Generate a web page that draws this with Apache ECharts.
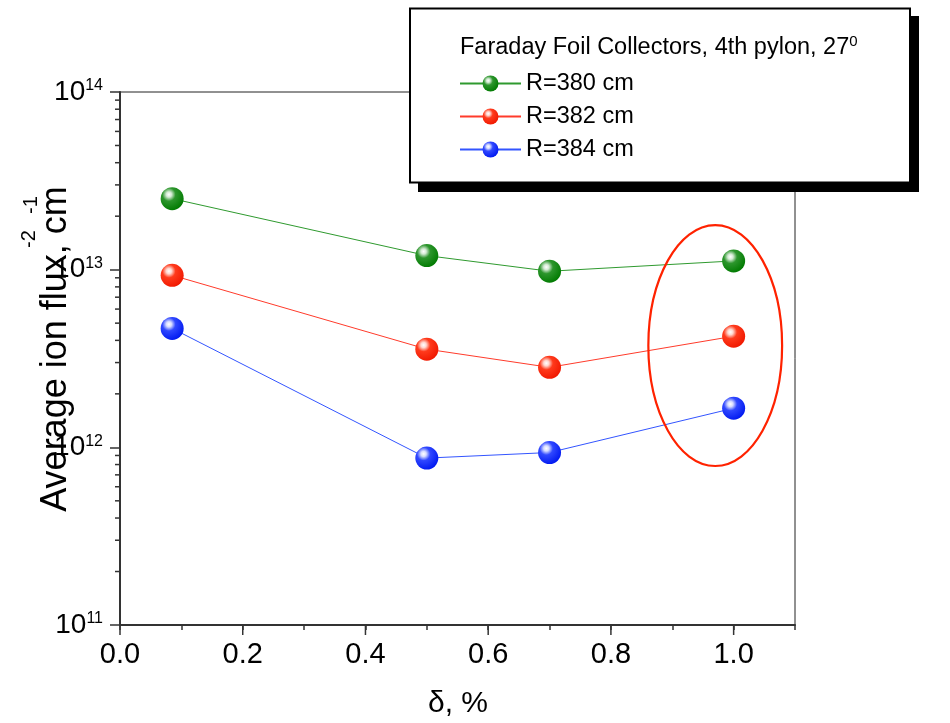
<!DOCTYPE html>
<html>
<head>
<meta charset="utf-8">
<script src="https://cdn.jsdelivr.net/npm/echarts@6/dist/echarts.min.js"></script>
<style>
  html, body { margin: 0; padding: 0; background: #ffffff; }
  #chart { width: 950px; height: 723px; }
</style>
</head>
<body>
<div id="chart"></div>
<script>
// Relative deviation δ (%) of each measurement
const deltaPercent = [0.085, 0.5, 0.7, 1.0];

// Average ion flux (cm^-2 s^-1) for each collector radius
const flux380 = [2.51e13, 1.20e13, 9.8e12, 1.12e13];
const flux382 = [9.3e12, 3.57e12, 2.82e12, 4.22e12];
const flux384 = [4.67e12, 8.7e11, 9.35e11, 1.66e12];

const seriesNames = ['R=380 cm', 'R=382 cm', 'R=384 cm'];
const legendTitle = 'Faraday Foil Collectors, 4th pylon, 27';
const legendTitleSup = '0';

// Axis tick values
const xMajorTicks = [0.0, 0.2, 0.4, 0.6, 0.8, 1.0];
const yDecades = [11, 12, 13];

// Highlighted group around δ = 1.0 (data-space centre and half extents)
const highlightCenter = [0.97, 3.74e12];
const highlightHalfWidth = 0.109;
const highlightHalfDecades = 0.678;

const SANS = "'Liberation Sans', Arial, Helvetica, sans-serif";

const palette = [
  { line: '#2f9a2f', light: '#d4ead4', mid: '#2d962d', dark: '#007a00' },
  { line: '#ff3b2b', light: '#ffd8d0', mid: '#ff3a1c', dark: '#f01800' },
  { line: '#3355ff', light: '#d6dcff', mid: '#3048ff', dark: '#0018f0' }
];

function ballFill(c) {
  return {
    type: 'radial', x: 0.36, y: 0.32, r: 0.72,
    colorStops: [
      { offset: 0, color: '#ffffff' },
      { offset: 0.16, color: c.light },
      { offset: 0.4, color: c.mid },
      { offset: 1, color: c.dark }
    ]
  };
}

// Minor tick values on the log axis: 2..9 × 10^n
const yMinorTicks = [];
yDecades.forEach(function (d) {
  for (let k = 2; k <= 9; k++) yMinorTicks.push(k * Math.pow(10, d));
});

const chart = echarts.init(document.getElementById('chart'), null, { renderer: 'canvas' });

const fluxSets = [flux380, flux382, flux384];
const dataSeries = fluxSets.map(function (vals, i) {
  return {
    type: 'line',
    name: seriesNames[i],
    data: deltaPercent.map(function (x, j) { return [x, vals[j]]; }),
    symbol: 'circle',
    symbolSize: 23,
    lineStyle: { color: palette[i].line, width: 1 },
    itemStyle: { color: ballFill(palette[i]), borderWidth: 0 },
    emphasis: { disabled: true },
    z: 3
  };
});

const tickColor = '#333333';

const option = {
  animation: false,
  backgroundColor: '#ffffff',
  grid: {
    left: 120, right: 155, top: 92, bottom: 98,
    show: true, borderColor: '#222222', borderWidth: 1,
    containLabel: false, outerBoundsMode: 'none'
  },
  xAxis: {
    type: 'value',
    min: 0, max: 1.1, interval: 0.1,
    axisLine: { show: true, onZero: false, lineStyle: { color: tickColor, width: 2 } },
    axisTick: { show: true, inside: false, length: 5, lineStyle: { color: tickColor, width: 1.5 } },
    splitLine: { show: false },
    axisLabel: {
      margin: 15,
      color: '#000',
      fontFamily: SANS,
      fontSize: 29,
      formatter: function (v) {
        const t = Math.round(v * 10);
        return (t % 2 === 0 && t <= 10) ? v.toFixed(1) : '';
      }
    }
  },
  yAxis: {
    type: 'log',
    logBase: 10,
    min: 1e11, max: 1e14,
    axisLine: { show: true, onZero: false, lineStyle: { color: tickColor, width: 2 } },
    axisTick: { show: true, inside: false, length: 10, lineStyle: { color: tickColor, width: 1.5 } },
    splitLine: { show: false },
    axisLabel: {
      margin: 17,
      formatter: function (v) {
        return '{b|10}{s|' + Math.round(Math.log10(v)) + '}';
      },
      rich: {
        b: { fontFamily: SANS, fontSize: 28, color: '#000', lineHeight: 28 },
        s: { fontFamily: SANS, fontSize: 16, color: '#000', verticalAlign: 'top', lineHeight: 16 }
      }
    }
  },
  legend: {
    data: seriesNames,
    orient: 'vertical',
    left: 459,
    top: 70,
    padding: 0,
    itemWidth: 61,
    itemHeight: 20,
    itemGap: 6,
    selectedMode: false,
    textStyle: { fontFamily: SANS, fontSize: 23.5, color: '#000', lineHeight: 27 },
    z: 20
  },
  series: dataSeries.concat([
    {
      // minor ticks of the logarithmic axis
      type: 'custom',
      silent: true,
      z: 1,
      data: yMinorTicks.map(function (v) { return [0, v]; }),
      renderItem: function (params, api) {
        const p = api.coord([api.value(0), api.value(1)]);
        return {
          type: 'line',
          shape: { x1: p[0] - 5, y1: p[1], x2: p[0], y2: p[1] },
          style: { stroke: tickColor, lineWidth: 1.5 }
        };
      }
    },
    {
      // longer major ticks on the δ axis
      type: 'custom',
      silent: true,
      z: 1,
      data: xMajorTicks.map(function (v) { return [v, 1e11]; }),
      renderItem: function (params, api) {
        const p = api.coord([api.value(0), api.value(1)]);
        return {
          type: 'line',
          shape: { x1: p[0], y1: p[1], x2: p[0], y2: p[1] + 10 },
          style: { stroke: tickColor, lineWidth: 1.5 }
        };
      }
    }
  ]),
  graphic: [
    // legend frame with its drop shadow
    { type: 'rect', z: 10, shape: { x: 418, y: 16, width: 501, height: 176 }, style: { fill: '#000' } },
    { type: 'rect', z: 11, shape: { x: 410, y: 8.5, width: 500, height: 174 },
      style: { fill: '#fff', stroke: '#000', lineWidth: 2 } },
    { type: 'text', z: 21, x: 460, y: 48,
      style: {
        text: '{t|' + legendTitle + '}{s|' + legendTitleSup + '}',
        align: 'left', verticalAlign: 'middle',
        rich: {
          t: { fontFamily: SANS, fontSize: 23.5, fill: '#000', lineHeight: 28 },
          s: { fontFamily: SANS, fontSize: 15, fill: '#000', verticalAlign: 'top', lineHeight: 15 }
        }
      }
    },
    // axis titles
    { type: 'text', z: 5, x: 56, y: 349, rotation: Math.PI / 2,
      style: { text: 'Average ion flux, cm', fontFamily: SANS, fontSize: 36, fill: '#000',
               align: 'center', verticalAlign: 'middle' } },
    { type: 'text', z: 5, x: 29, y: 239, rotation: Math.PI / 2,
      style: { text: '-2', fontFamily: SANS, fontSize: 20, fill: '#000',
               align: 'center', verticalAlign: 'middle' } },
    { type: 'text', z: 5, x: 31, y: 205, rotation: Math.PI / 2,
      style: { text: '-1', fontFamily: SANS, fontSize: 20, fill: '#000',
               align: 'center', verticalAlign: 'middle' } },
    { type: 'text', z: 5, x: 458, y: 704,
      style: { text: 'δ, %', fontFamily: SANS, fontSize: 30, fill: '#000',
               align: 'center', verticalAlign: 'middle' } }
  ]
};

chart.setOption(option);

// Ellipse marking the δ = 1.0 group, placed through the axes' own scales
const c = chart.convertToPixel({ gridIndex: 0 }, highlightCenter);
const cx = chart.convertToPixel({ gridIndex: 0 }, [highlightCenter[0] + highlightHalfWidth, highlightCenter[1]]);
const cy = chart.convertToPixel({ gridIndex: 0 },
  [highlightCenter[0], highlightCenter[1] * Math.pow(10, highlightHalfDecades)]);
chart.setOption({
  graphic: option.graphic.concat([{
    type: 'ellipse', z: 4, silent: true,
    shape: { cx: c[0], cy: c[1], rx: Math.abs(cx[0] - c[0]), ry: Math.abs(c[1] - cy[1]) },
    style: { fill: 'none', stroke: '#ff2200', lineWidth: 2.2 }
  }])
});
</script>
</body>
</html>
